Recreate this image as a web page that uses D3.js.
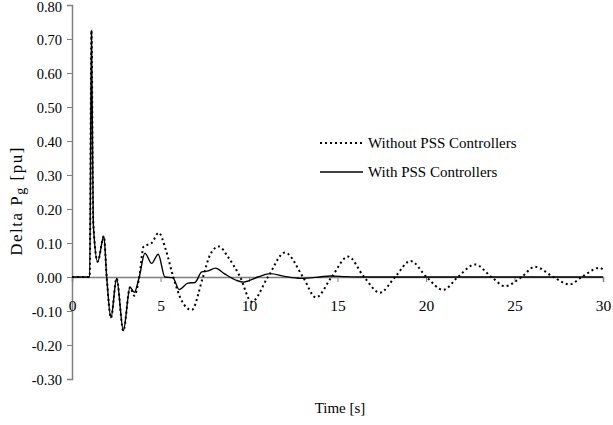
<!DOCTYPE html>
<html>
<head>
<meta charset="utf-8">
<script src="https://cdn.jsdelivr.net/npm/d3@7"></script>
<style>
  body { margin: 0; background: #fff; }
  svg text { font-family: "Liberation Serif", "Times New Roman", "DejaVu Serif", serif !important; }
</style>
</head>
<body>
<div id="chart"></div>
<script>
let width = 613;
let height = 425;

// data
let timeNoPss = [0, 1.0, 1.1, 1.2, 1.45, 1.8, 1.96, 2.2, 2.52, 2.9, 3.28, 3.52, 3.8, 4.05, 4.5, 4.9, 5.3, 5.72,
  6.2, 6.76, 7.4, 7.8, 8.3, 8.8, 9.5, 10.15, 11.07, 12.03, 13.05, 13.78, 14.67, 15.6, 16.5, 17.4,
  18.25, 19.13, 20.03, 20.97, 21.8, 22.77, 23.7, 24.46, 25.4, 26.15, 27.2, 28.1, 28.8, 29.8, 30];
let valNoPss = [0, 0, 0.725, 0.16, 0.045, 0.12, 0, -0.12, -0.004, -0.158, -0.03, -0.055, 0, 0.09, 0.1, 0.13, 0.08, 0,
  -0.07, -0.097, 0, 0.065, 0.09, 0.06, 0, -0.073, 0, 0.072, 0, -0.06, 0, 0.06, 0, -0.046,
  0, 0.047, 0, -0.038, 0, 0.037, 0, -0.027, 0, 0.03, 0, -0.022, 0, 0.027, 0.022];

let timePss = [0, 1.0, 1.1, 1.2, 1.45, 1.8, 1.96, 2.2, 2.52, 2.9, 3.28, 3.52, 3.8, 4.12, 4.5, 4.87, 5.25, 5.69,
  6.06, 6.55, 6.95, 7.33, 7.7, 8.1, 8.6, 9.3, 9.7, 10.5, 11.2, 12.0, 12.9, 14.0, 14.6, 15.5, 16.5, 30];
let valPss = [0, 0, 0.725, 0.16, 0.045, 0.12, 0, -0.12, -0.004, -0.158, -0.03, -0.045, 0, 0.07, 0.04, 0.067, 0, -0.002,
  -0.037, -0.018, -0.016, 0.015, 0.018, 0.026, 0.01, -0.01, -0.015, 0, 0.01, 0.002, -0.004, 0, 0.003, 0.001, 0, 0];

let yTicks = [-0.3, -0.2, -0.1, 0, 0.1, 0.2, 0.3, 0.4, 0.5, 0.6, 0.7, 0.8];
let xTicks = [0, 5, 10, 15, 20, 25, 30];
let seriesNames = ["Without PSS Controllers", "With PSS Controllers"];

let svg = d3.select("#chart").append("svg")
  .attr("width", width)
  .attr("height", height);

let x = d3.scaleLinear().domain([0, 30]).range([72, 603]);
let y = d3.scaleLinear().domain([-0.3, 0.8]).range([379, 5]);

// y axis
let yAxis = d3.axisLeft(y)
  .tickValues(yTicks)
  .tickSize(5)
  .tickPadding(5)
  .tickFormat(d => d.toFixed(2));
let gy = svg.append("g").attr("transform", "translate(" + x(0) + ",0)").call(yAxis);
gy.select(".domain").attr("stroke", "#808080").attr("stroke-width", 1.5);
gy.selectAll(".tick line").attr("stroke", "#808080");
gy.selectAll(".tick text").attr("font-size", 14.5).attr("fill", "#000")
  .attr("dy", d => d === 0.8 ? "0.42em" : "0.36em");

// x axis on the zero line
let xAxis = d3.axisBottom(x)
  .tickValues(xTicks)
  .tickSize(5)
  .tickPadding(18)
  .tickFormat(d => d);
let gx = svg.append("g").attr("transform", "translate(0," + y(0) + ")").call(xAxis);
gx.select(".domain").attr("stroke", "#808080").attr("stroke-width", 1.5);
gx.selectAll(".tick line").attr("stroke", "#808080");
gx.selectAll(".tick text").attr("font-size", 15.5).attr("fill", "#000");

let line = d3.line()
  .x(d => x(d[0]))
  .y(d => y(d[1]))
  .curve(d3.curveMonotoneX);

let noPss = d3.zip(timeNoPss, valNoPss);
let pss = d3.zip(timePss, valPss);

svg.append("path")
  .datum(pss)
  .attr("d", line)
  .attr("fill", "none")
  .attr("stroke", "#000")
  .attr("stroke-width", 1.4);

svg.append("path")
  .datum(noPss)
  .attr("d", line)
  .attr("fill", "none")
  .attr("stroke", "#000")
  .attr("stroke-width", 2)
  .attr("stroke-dasharray", "2,3");

// legend
let legend = svg.append("g");
let legendY = [143, 172];
legendY.forEach((ly, i) => {
  legend.append("line")
    .attr("x1", 320).attr("x2", 363)
    .attr("y1", ly).attr("y2", ly)
    .attr("stroke", "#000")
    .attr("stroke-width", i === 0 ? 2 : 1.4)
    .attr("stroke-dasharray", i === 0 ? "2,3" : null);
  legend.append("text")
    .attr("x", 368).attr("y", ly + 5)
    .attr("font-size", 15)
    .text(seriesNames[i]);
});

// axis titles
svg.append("text")
  .attr("x", 340).attr("y", 413)
  .attr("text-anchor", "middle")
  .attr("font-size", 15)
  .text("Time [s]");

let yl = svg.append("text")
  .attr("transform", "translate(22,201) rotate(-90)")
  .attr("text-anchor", "middle")
  .attr("font-size", 17)
  .attr("letter-spacing", 1.5);
yl.append("tspan").text("Delta P");
yl.append("tspan").attr("font-size", 14).attr("dy", 3).text("g");
yl.append("tspan").attr("dy", -3).text(" [pu]");
</script>
</body>
</html>
